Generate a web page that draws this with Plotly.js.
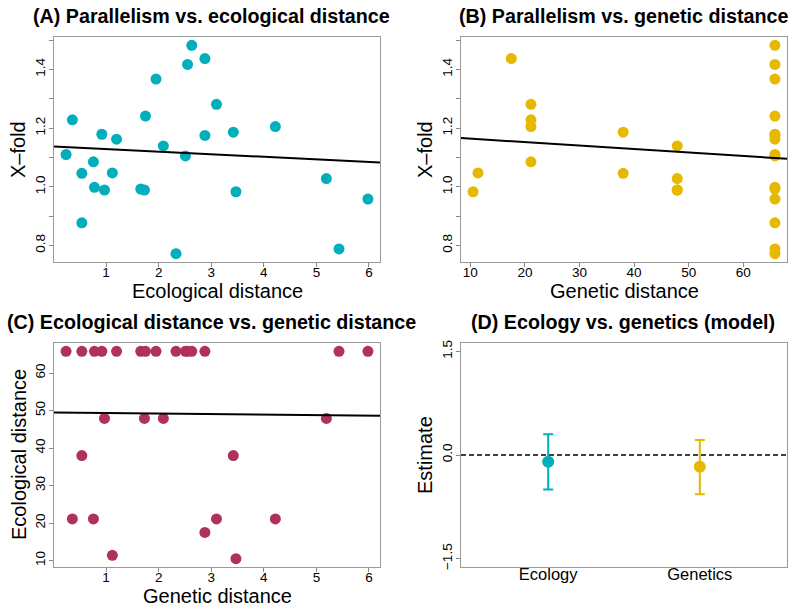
<!DOCTYPE html>
<html>
<head>
<meta charset="utf-8">
<script src="https://cdn.plot.ly/plotly-3.0.1.min.js"></script>
<style>
  html, body { margin: 0; padding: 0; background: #fff; }
  #chart { width: 800px; height: 610px; }
</style>
</head>
<body>
<div id="chart"></div>
<script>
// one entry per pair of populations
const ecoDist = [0.24, 0.36, 0.54, 0.54, 0.76, 0.78, 0.92, 0.97, 1.12, 1.20, 1.66, 1.73, 1.75, 1.95,
  2.09, 2.33, 2.51, 2.55, 2.63, 2.88, 2.88, 3.10, 3.42, 3.47, 4.22, 5.19, 5.43, 5.98];
const xFold = [1.110, 1.228, 1.046, 0.877, 1.085, 0.998, 1.179, 0.989, 1.047, 1.162, 0.992, 0.989, 1.241, 1.367,
  1.139, 0.772, 1.105, 1.417, 1.482, 1.437, 1.175, 1.281, 1.186, 0.983, 1.205, 1.028, 0.788, 0.958];
const genDist = [65.8, 21.1, 38.0, 65.8, 21.1, 65.8, 65.8, 47.9, 11.4, 65.8, 65.8, 47.9, 65.8, 65.8,
  47.9, 65.8, 65.8, 65.8, 65.8, 17.5, 65.8, 21.1, 38.0, 10.5, 21.1, 47.9, 65.8, 65.8];

// fitted lines, [intercept, slope]
const fitXfoldEco = [1.137, -0.0087];
const fitXfoldGen = [1.1758, -0.00118];
const fitGenEco = [49.5, -0.145];

// model estimates
const modelTerms = ["Ecology", "Genetics"];
const modelEstimate = [-0.097, -0.169];
const modelUpper = [0.300, 0.216];
const modelLower = [-0.500, -0.567];

const TEAL = "#00AFBB", GOLD = "#E7B800", MAROON = "#B03060";
const FONT = "Liberation Sans, Arial, Helvetica, sans-serif";
const W = 800, H = 610;

// R-style axis range: 4% padding each side
function rRange(vals) {
  const lo = Math.min(...vals), hi = Math.max(...vals);
  const pad = (hi - lo) * 0.04;
  return [lo - pad, hi + pad];
}
function seq(a, b, step) {
  const out = [];
  for (let v = a; v <= b + 1e-9; v += step) out.push(Math.round(v * 100) / 100);
  return out;
}

function axis(anchor, domainPx, range, tickvals, ticktext, isY) {
  const d = isY ? [1 - domainPx[1] / H, 1 - domainPx[0] / H] : [domainPx[0] / W, domainPx[1] / W];
  return {
    anchor: anchor,
    domain: d,
    range: range,
    tickmode: "array",
    tickvals: tickvals,
    ticktext: ticktext,
    ticks: "outside",
    ticklen: 4,
    tickwidth: 1,
    tickcolor: "#888",
    tickangle: isY ? -90 : 0,
    ticklabelstandoff: isY ? -1 : -6,
    tickfont: {family: FONT, size: 13.5, color: "#000"},
    showline: true,
    mirror: true,
    linecolor: "#9a9a9a",
    linewidth: 1,
    showgrid: false,
    zeroline: false,
    fixedrange: true
  };
}

const xFoldTicks = seq(0.8, 1.5, 0.1);
const xFoldText = xFoldTicks.map(v => (Math.round(v * 10) % 2 === 0 ? v.toFixed(1) : ""));
const ecoTicks = [1, 2, 3, 4, 5, 6];
const genTicks = [10, 20, 30, 40, 50, 60];

const rEco = rRange(ecoDist), rX = rRange(xFold), rGen = rRange(genDist);

function fitLine(fit, xr, xa, ya) {
  return {
    x: xr, y: xr.map(x => fit[0] + fit[1] * x),
    xaxis: xa, yaxis: ya, mode: "lines",
    line: {color: "#000", width: 2}, hoverinfo: "skip", showlegend: false
  };
}
function dots(x, y, color, xa, ya) {
  return {
    x: x, y: y, xaxis: xa, yaxis: ya, mode: "markers", type: "scatter",
    marker: {color: color, size: 11, line: {width: 0}}, showlegend: false
  };
}

const data = [
  dots(ecoDist, xFold, TEAL, "x", "y"),
  fitLine(fitXfoldEco, rEco, "x", "y"),
  dots(genDist, xFold, GOLD, "x2", "y2"),
  fitLine(fitXfoldGen, rGen, "x2", "y2"),
  dots(ecoDist, genDist, MAROON, "x3", "y3"),
  fitLine(fitGenEco, rEco, "x3", "y3"),
  {
    x: [0.425, 2.575], y: [0, 0], xaxis: "x4", yaxis: "y4", mode: "lines",
    line: {color: "#000", width: 1.5, dash: "5px,3px"}, hoverinfo: "skip", showlegend: false
  }
];
modelTerms.forEach((t, i) => {
  const c = i === 0 ? TEAL : GOLD;
  data.push({
    x: [i + 1], y: [modelEstimate[i]], xaxis: "x4", yaxis: "y4", mode: "markers",
    marker: {color: c, size: 12},
    error_y: {
      type: "data", symmetric: false,
      array: [modelUpper[i] - modelEstimate[i]],
      arrayminus: [modelEstimate[i] - modelLower[i]],
      color: c, thickness: 2, width: 5
    },
    showlegend: false
  });
});

const colLeft = [54, 380], colRight = [461, 787];
const rowTop = [37, 262], rowBottom = [343, 567];

const x4 = axis("y4", colRight, [0.425, 2.575], [1, 2], modelTerms, false);
x4.ticks = "";
x4.ticklabelstandoff = -8;
x4.tickfont = {family: FONT, size: 16.5, color: "#000"};

const layout = {
  width: W, height: H,
  margin: {l: 0, r: 0, t: 0, b: 0},
  paper_bgcolor: "#fff", plot_bgcolor: "#fff",
  showlegend: false,
  xaxis: axis("y", colLeft, rEco, ecoTicks, ecoTicks.map(String), false),
  yaxis: axis("x", rowTop, rX, xFoldTicks, xFoldText, true),
  xaxis2: axis("y2", colRight, rGen, genTicks, genTicks.map(String), false),
  yaxis2: axis("x2", rowTop, rX, xFoldTicks, xFoldText, true),
  xaxis3: axis("y3", colLeft, rEco, ecoTicks, ecoTicks.map(String), false),
  yaxis3: axis("x3", rowBottom, rGen, genTicks, genTicks.map(String), true),
  xaxis4: x4,
  yaxis4: axis("x4", rowBottom, [-1.62, 1.62], [-1.5, 0, 1.5], ["\u22121.5", "0.0", "1.5"], true),
  annotations: []
};

function label(text, px, py, size, bold, angle) {
  layout.annotations.push({
    text: bold ? "<b>" + text + "</b>" : text,
    x: px / W, y: 1 - py / H, xref: "paper", yref: "paper",
    xanchor: "center", yanchor: "middle", showarrow: false,
    textangle: angle || 0,
    font: {family: FONT, size: size, color: "#000"}
  });
}

label("(A) Parallelism vs. ecological distance", 211, 16, 19.7, true);
label("(B) Parallelism vs. genetic distance", 623, 16, 19.7, true);
label("(C) Ecological distance vs. genetic distance", 211, 322, 19.7, true);
label("(D) Ecology vs. genetics (model)", 623, 322, 19.7, true);

label("Ecological distance", 217, 291, 20, false);
label("Genetic distance", 624, 291, 20, false);
label("Genetic distance", 217, 596, 20, false);

label("X\u2013fold", 18, 150, 20, false, -90);
label("X\u2013fold", 425, 150, 20, false, -90);
label("Ecological distance", 19, 455, 20, false, -90);
label("Estimate", 425, 455, 20, false, -90);

Plotly.newPlot("chart", data, layout, {staticPlot: true, displayModeBar: false});
</script>
</body>
</html>
